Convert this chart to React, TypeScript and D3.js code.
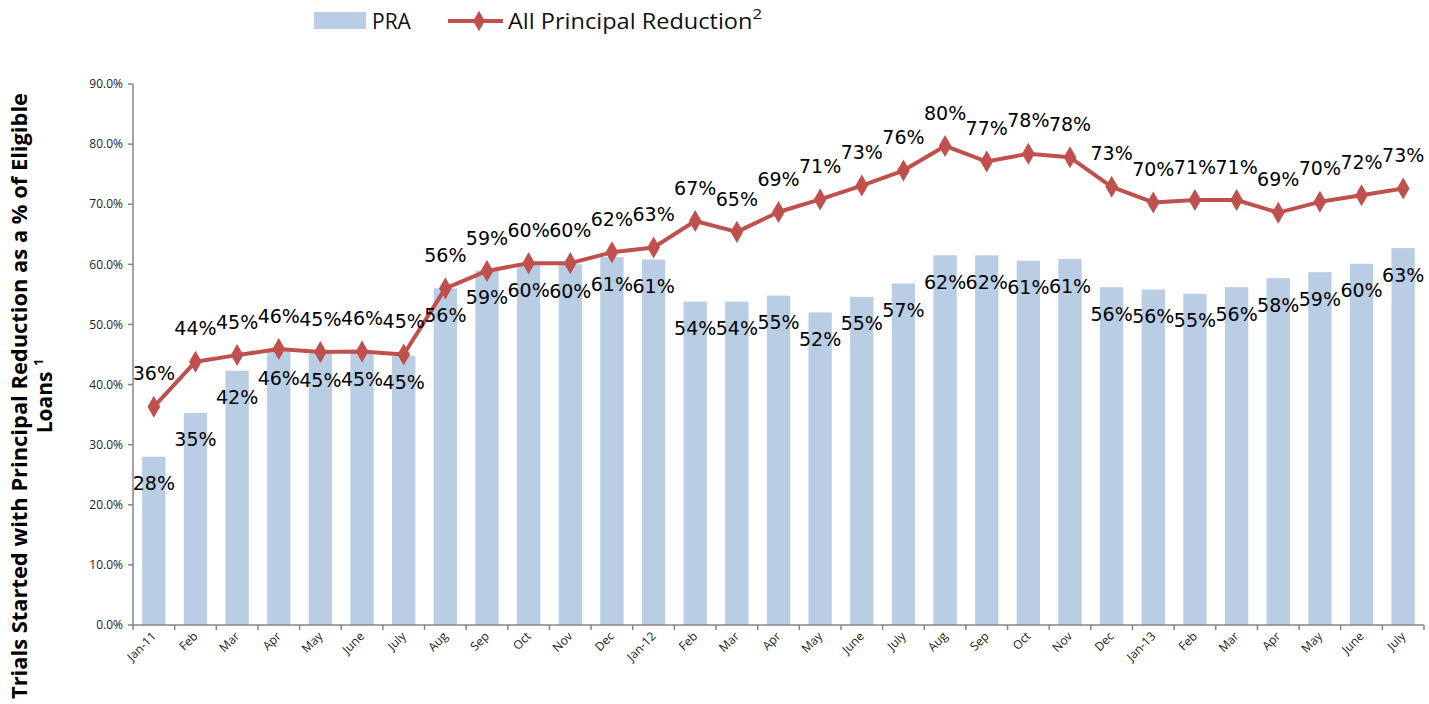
import React from 'react';
import * as d3 from 'd3';

const months = [
  'Jan-11', 'Feb', 'Mar', 'Apr', 'May', 'June', 'July', 'Aug', 'Sep', 'Oct', 'Nov', 'Dec',
  'Jan-12', 'Feb', 'Mar', 'Apr', 'May', 'June', 'July', 'Aug', 'Sep', 'Oct', 'Nov', 'Dec',
  'Jan-13', 'Feb', 'Mar', 'Apr', 'May', 'June', 'July',
];

// PRA share (%)
const praValues = [
  28.0, 35.3, 42.3, 45.6, 45.2, 45.3, 44.8, 56.0, 59.0, 60.2, 60.0, 61.2,
  60.8, 53.8, 53.8, 54.8, 52.0, 54.6, 56.8, 61.5, 61.5, 60.6, 60.9, 56.2,
  55.8, 55.1, 56.2, 57.7, 58.7, 60.1, 62.7,
];

// All principal reduction (%)
const allValues = [
  36.3, 43.8, 44.9, 45.9, 45.4, 45.5, 45.0, 56.0, 58.9, 60.2, 60.2, 62.0,
  62.8, 67.2, 65.4, 68.7, 70.8, 73.1, 75.6, 79.7, 77.1, 78.4, 77.8, 72.9,
  70.3, 70.7, 70.7, 68.6, 70.4, 71.5, 72.6,
];

const yTicks = [0, 10, 20, 30, 40, 50, 60, 70, 80, 90];

const BAR = '#B9CDE5';
const LINE = '#C0504D';
const AXIS = '#868686';

export default function App() {
  const width = 1429;
  const height = 704;
  const left = 133;
  const right = 1424;
  const top = 84;
  const bottom = 625;

  const ids = months.map((_, i) => i);
  const x = d3.scaleBand<number>().domain(ids).range([left, right]).paddingInner(0.44).paddingOuter(0.22);
  const step = (right - left) / months.length;
  const cx = (i: number) => left + step * (i + 0.5);
  const y = d3.scaleLinear().domain([0, 90]).range([bottom, top]);

  const line = d3.line<number>().x((_, i) => cx(i)).y(d => y(d));

  const labelFont = '"DejaVu Sans", sans-serif';
  const axisFont = '"Open Sans", sans-serif';

  return (
    <svg width={width} height={height} style={{ position: 'absolute', left: 0, top: 0 }}>
      <rect width={width} height={height} fill="#fff" />

      {/* legend */}
      <rect x={314} y={12} width={52} height={17} fill={BAR} />
      <text x={372} y={29} fontFamily={axisFont} fontSize={21} fill="#111">PRA</text>
      <line x1={448} x2={503} y1={21} y2={21} stroke={LINE} strokeWidth={4} />
      <path d={d3.symbol(d3.symbolDiamond, 120)()!} transform="translate(479,21)" fill={LINE} />
      <text x={508} y={29} fontFamily={axisFont} fontSize={21} fill="#111" textLength={254} lengthAdjust="spacingAndGlyphs">
        All Principal Reduction<tspan dy={-10} fontSize={15}>2</tspan>
      </text>

      {/* y axis title */}
      <g transform="translate(0,396) rotate(-90)" fontFamily={axisFont} fontWeight="bold" fill="#000">
        <text x={0} y={27} textAnchor="middle" fontSize={21} textLength={606} lengthAdjust="spacingAndGlyphs">
          Trials Started with Principal Reduction as a % of Eligible
        </text>
        <text x={0} y={52} textAnchor="middle" fontSize={21}>
          Loans <tspan dy={-9} fontSize={13}>1</tspan>
        </text>
      </g>

      {/* bars */}
      {praValues.map((v, i) => (
        <rect key={i} x={cx(i) - x.bandwidth() / 2} y={y(v)} width={x.bandwidth()} height={y(0) - y(v)} fill={BAR} />
      ))}

      {/* y axis */}
      <line x1={left} x2={left} y1={top} y2={bottom} stroke={AXIS} strokeWidth={1.5} />
      {yTicks.map(t => (
        <g key={t}>
          <line x1={left - 5} x2={left} y1={y(t)} y2={y(t)} stroke={AXIS} strokeWidth={1.5} />
          <text x={left - 10} y={y(t)} dy="0.35em" textAnchor="end" fontFamily={axisFont} fontSize={12} fill="#222">
            {t.toFixed(1)}%
          </text>
        </g>
      ))}

      {/* x axis */}
      <line x1={left} x2={right} y1={bottom} y2={bottom} stroke={AXIS} strokeWidth={1.5} />
      {d3.range(months.length + 1).map(i => (
        <line key={i} x1={left + step * i} x2={left + step * i} y1={bottom} y2={bottom + 5} stroke={AXIS} strokeWidth={1.5} />
      ))}
      {months.map((m, i) => (
        <text key={i} transform={`translate(${cx(i) + 3},${bottom + 12}) rotate(-45)`} textAnchor="end"
          fontFamily={axisFont} fontSize={12} fill="#222">
          {m}
        </text>
      ))}

      {/* line */}
      <path d={line(allValues)!} fill="none" stroke={LINE} strokeWidth={4} strokeLinejoin="round" />
      {allValues.map((v, i) => (
        <path key={i} d={d3.symbol(d3.symbolDiamond, 140)()!} transform={`translate(${cx(i)},${y(v)})`} fill={LINE} />
      ))}

      {/* data labels */}
      {praValues.map((v, i) => (
        <text key={i} x={cx(i)} y={y(v) + 27} dy="0.35em" textAnchor="middle" fontFamily={labelFont} fontSize={19} fill="#000">
          {Math.round(v)}%
        </text>
      ))}
      {allValues.map((v, i) => (
        <text key={i} x={cx(i)} y={y(v) - 33} dy="0.35em" textAnchor="middle" fontFamily={labelFont} fontSize={19} fill="#000">
          {Math.round(v)}%
        </text>
      ))}
    </svg>
  );
}
